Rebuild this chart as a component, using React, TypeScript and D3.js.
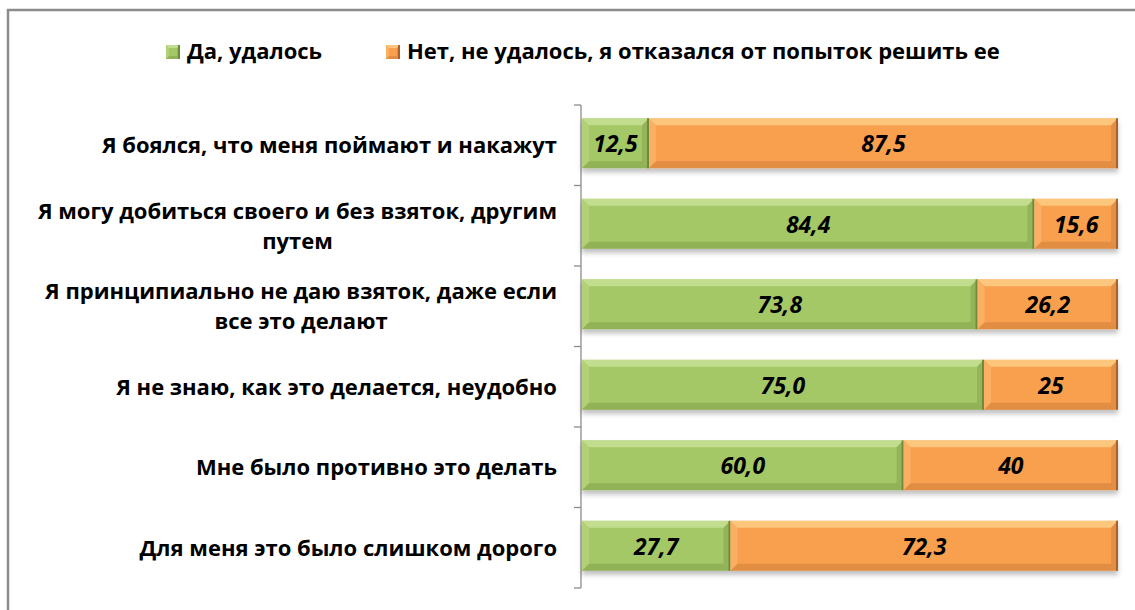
import React, { useEffect, useRef } from 'react';
import * as d3 from 'd3';

const categories = [
  ['Я боялся, что меня поймают и накажут'],
  ['Я могу добиться своего и без взяток, другим', 'путем'],
  ['Я принципиально не даю взяток, даже если', 'все это делают'],
  ['Я не знаю, как это делается, неудобно'],
  ['Мне было противно это делать'],
  ['Для меня это было слишком дорого'],
];
const yesValues = [12.5, 84.4, 73.8, 75.0, 60.0, 27.7];
const noValues = [87.5, 15.6, 26.2, 25, 40, 72.3];
const seriesNames = ['Да, удалось', 'Нет, не удалось, я отказался от попыток решить ее'];

const W = 1135;
const H = 610;
const FONT = "'Open Sans', 'Noto Sans', sans-serif";

const palette = [
  { base: '#A5C866', light: '#CFE6A0', dark: '#7E9C48', edge: '#6E8A3C' },
  { base: '#F9A04F', light: '#FDD592', dark: '#C97A38', edge: '#A8622A' },
];

// draw a bevelled block like the Office bar style
function bevel(g: any, x: number, y: number, w: number, h: number, c: any, b = 7) {
  const bb = Math.min(b, w / 2);
  g.append('rect').attr('x', x).attr('y', y).attr('width', w).attr('height', h).attr('fill', c.base);
  g.append('polygon')
    .attr('points', [[x, y], [x + w, y], [x + w - bb, y + bb], [x + bb, y + bb]].join(' '))
    .attr('fill', c.light).attr('opacity', 0.7);
  g.append('polygon')
    .attr('points', [[x, y + h], [x + w, y + h], [x + w - bb, y + h - bb], [x + bb, y + h - bb]].join(' '))
    .attr('fill', c.dark).attr('opacity', 0.5);
  g.append('polygon')
    .attr('points', [[x, y], [x + bb, y + bb], [x + bb, y + h - bb], [x, y + h]].join(' '))
    .attr('fill', c.light).attr('opacity', 0.3);
  g.append('polygon')
    .attr('points', [[x + w, y], [x + w - bb, y + bb], [x + w - bb, y + h - bb], [x + w, y + h]].join(' '))
    .attr('fill', c.dark).attr('opacity', 0.45);
  g.append('line').attr('x1', x + w - 1).attr('x2', x + w - 1).attr('y1', y).attr('y2', y + h)
    .attr('stroke', c.edge).attr('stroke-width', 2);
}

export default function App() {
  const ref = useRef<SVGSVGElement>(null);

  useEffect(() => {
    const svg = d3.select(ref.current);
    svg.selectAll('*').remove();

    const defs = svg.append('defs');
    const f = defs.append('filter').attr('id', 'shadow').attr('x', '-5%').attr('y', '-20%').attr('width', '110%').attr('height', '160%');
    f.append('feDropShadow').attr('dx', 0).attr('dy', 4).attr('stdDeviation', 2.5)
      .attr('flood-color', '#000').attr('flood-opacity', 0.25);

    svg.append('rect').attr('width', W).attr('height', H).attr('fill', '#fff');
    svg.append('polyline')
      .attr('points', `${W},10 8,10 8,${H}`)
      .attr('fill', 'none').attr('stroke', '#8c8c8c').attr('stroke-width', 2.5);

    const x = d3.scaleLinear().domain([0, 100]).range([582, 1118]);
    const y = d3.scaleBand<number>()
      .domain(d3.range(categories.length))
      .range([103, 586])
      .paddingInner(0.38)
      .paddingOuter(0.19);

    // axis
    const axisX = 581;
    const axis = svg.append('g').attr('stroke', '#8c8c8c').attr('stroke-width', 1.3);
    axis.append('line').attr('x1', axisX).attr('x2', axisX).attr('y1', 105).attr('y2', 588);
    const step = y.step();
    d3.range(categories.length + 1).forEach((i) => {
      const ty = 105 + i * step;
      axis.append('line').attr('x1', axisX - 7).attr('x2', axisX).attr('y1', ty).attr('y2', ty);
    });

    // bars
    const bars = svg.append('g');
    categories.forEach((_, i) => {
      const by = y(i)!;
      const bh = y.bandwidth();
      const row = bars.append('g').attr('filter', 'url(#shadow)');
      const vals = [yesValues[i], noValues[i]];
      let acc = 0;
      vals.forEach((v, s) => {
        const x0 = x(acc);
        const x1 = x(acc + v);
        bevel(row, x0, by, x1 - x0, bh, palette[s]);
        acc += v;
      });
      acc = 0;
      vals.forEach((v, s) => {
        const x0 = x(acc);
        const x1 = x(acc + v);
        const txt = s === 0 ? v.toFixed(1).replace('.', ',') : String(v).replace('.', ',');
        bars.append('text')
          .attr('x', (x0 + x1) / 2).attr('y', by + bh / 2 + 3)
          .attr('text-anchor', 'middle').attr('dominant-baseline', 'middle')
          .attr('font-family', FONT).attr('font-weight', 'bold').attr('font-style', 'italic')
          .attr('font-size', 23).attr('fill', '#000')
          .text(txt);
        acc += v;
      });
    });

    // category labels (right-aligned block, lines centred)
    const labelRight = 557;
    const lineH = 30;
    categories.forEach((lines, i) => {
      const cy = 105 + (i + 0.5) * step + 2;
      const g = svg.append('g');
      const nodes = lines.map((ln, k) =>
        g.append('text')
          .attr('y', cy + (k - (lines.length - 1) / 2) * lineH)
          .attr('dominant-baseline', 'middle').attr('text-anchor', 'middle')
          .attr('font-family', FONT).attr('font-weight', 'bold').attr('font-size', 22)
          .attr('fill', '#000').text(ln)
      );
      const widths = nodes.map((n) => (n.node() as SVGTextElement).getComputedTextLength());
      const maxW = d3.max(widths) || 0;
      nodes.forEach((n) => n.attr('x', labelRight - maxW / 2));
    });

    // legend
    const legend = svg.append('g');
    const items = [
      { x: 166, c: palette[0], t: seriesNames[0] },
      { x: 386, c: palette[1], t: seriesNames[1] },
    ];
    items.forEach((it) => {
      bevel(legend, it.x, 45, 14, 14, it.c, 3);
      legend.append('text')
        .attr('x', it.x + 21).attr('y', 53)
        .attr('dominant-baseline', 'middle')
        .attr('font-family', FONT).attr('font-weight', 'bold').attr('font-size', 22)
        .attr('fill', '#000').text(it.t);
    });
  }, []);

  return (
    <svg
      ref={ref}
      width={W}
      height={H}
      viewBox={`0 0 ${W} ${H}`}
      style={{ position: 'absolute', left: 0, top: 0 }}
    />
  );
}
